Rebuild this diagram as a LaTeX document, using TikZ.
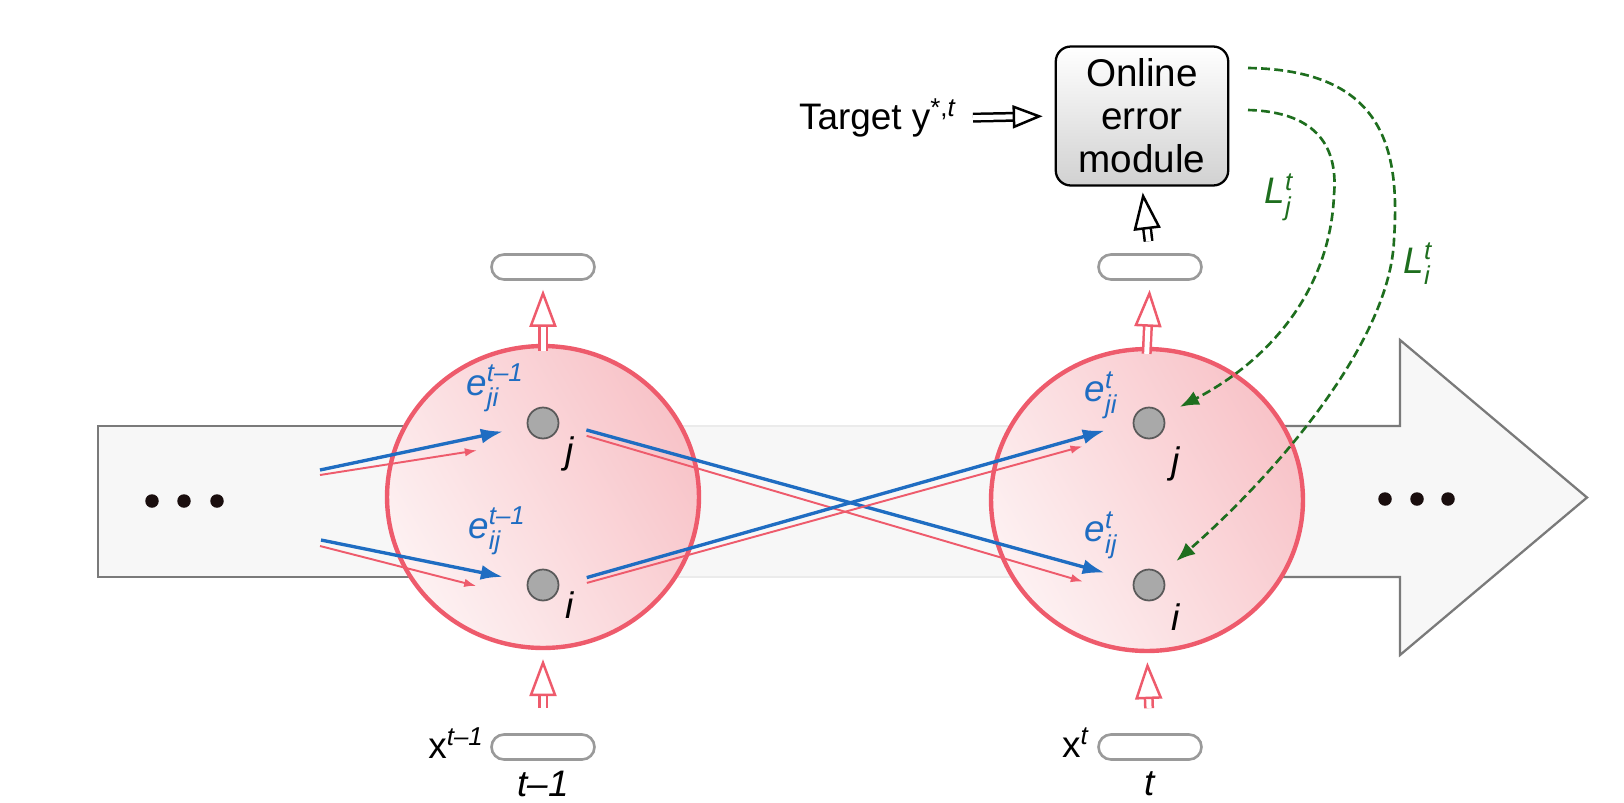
\documentclass[tikz,border=0pt]{standalone}
\usepackage{amsmath}
\usepackage{fontspec}
\setmainfont{Liberation Sans}
\usetikzlibrary{shapes,arrows.meta,positioning}

\definecolor{cellred}{HTML}{EE5B6C}
\definecolor{cellpale}{HTML}{FDF1F2}
\definecolor{cellpink}{HTML}{F8C3C8}
\definecolor{linkblue}{HTML}{1F6DC2}
\definecolor{lossgreen}{HTML}{1E6E1E}
\definecolor{unitgray}{HTML}{A9A9A9}
\definecolor{unitedge}{HTML}{5A5A5A}
\definecolor{pillgray}{HTML}{9A9A9A}
\definecolor{bodyfill}{HTML}{F7F7F7}
\definecolor{bodyedge}{HTML}{7A7A7A}
\definecolor{dotdark}{HTML}{1A0E0E}

\newcommand{\elab}[3]{\textit{#1}$^{\text{\itshape #2}}_{\text{\itshape #3}}$}

\begin{document}
\begin{tikzpicture}[x=0.02cm, y=-0.02cm,
    cell/.style={ellipse, draw=cellred, line width=2.5pt, minimum width=6.24cm, minimum height=6.04cm,
        left color=cellpale, right color=cellpink, shading angle=120},
    unit/.style={circle, draw=unitedge, fill=unitgray, line width=1pt, minimum size=0.62cm, inner sep=0pt},
    pill/.style={rectangle, rounded corners=0.25cm, draw=pillgray, fill=white, line width=1.5pt,
        minimum width=2.06cm, minimum height=0.5cm},
    module/.style={rectangle, rounded corners=0.3cm, draw, line width=1.3pt, top color=white,
        bottom color=black!18, minimum width=3.45cm, minimum height=2.78cm, align=center,
        font=\fontsize{22}{24.5}\selectfont},
    lbl/.style={font=\fontsize{21}{24}\selectfont, inner sep=0pt},
    wlink/.style={draw=linkblue, line width=1.9pt, -{Latex[length=0.44cm,width=0.3cm]}},
    rlink/.style={draw=cellred, line width=1.1pt, -{Latex[length=0.24cm,width=0.17cm]}},
    hollow/.style={double=white, double distance=0.1cm, line width=0.05cm,
        -{Triangle[open,length=0.74cm,width=0.54cm]}},
    loss/.style={draw=lossgreen, line width=1.5pt, dash pattern=on 5pt off 2.5pt,
        -{Latex[length=0.38cm,width=0.3cm]}},
    dot/.style={circle, fill=dotdark, minimum size=0.27cm, inner sep=0pt}
]
\useasboundingbox (0,0) rectangle (1624,802);

\fill[bodyfill] (98,426) -- (1400,426) -- (1400,340) -- (1587,497.5) -- (1400,655) -- (1400,577) -- (98,577) -- cycle;
\draw[bodyedge, line width=1.3pt] (450,426) -- (98,426) -- (98,577) -- (450,577);
\draw[bodyedge, line width=1.3pt] (1250,426) -- (1400,426) -- (1400,340) -- (1587,497.5) -- (1400,655) -- (1400,577) -- (1250,577);
\draw[black!8, line width=1pt] (650,426) -- (1050,426) (650,577) -- (1050,577);

\foreach \x [count=\k] in {152,184,217} \node[dot] (ldot\k) at (\x,501) {};
\foreach \x [count=\k] in {1385,1417,1448} \node[dot] (rdot\k) at (\x,499) {};

\node[cell] (cellprev) at (543,497) {};
\node[cell] (cellcur) at (1147,500) {};

\node[unit] (jprev) at (543,423) {};
\node[unit] (iprev) at (543,585) {};
\node[unit] (jcur) at (1149,423) {};
\node[unit] (icur) at (1149,585) {};

\node[lbl] (jprevlbl) at (570,454) {\textit{j}};
\node[lbl] (iprevlbl) at (570,605) {\textit{i}};
\node[lbl] (jcurlbl) at (1176,464) {\textit{j}};
\node[lbl] (icurlbl) at (1176,617) {\textit{i}};

\node[lbl, text=linkblue] (ejiprev) at (495,388) {\elab{e}{t–1}{ji}};
\node[lbl, text=linkblue] (eijprev) at (497,531) {\elab{e}{t–1}{ij}};
\node[lbl, text=linkblue] (ejicur) at (1101,395) {\elab{e}{t}{ji}};
\node[lbl, text=linkblue] (eijcur) at (1101,535) {\elab{e}{t}{ij}};

\coordinate (inbj) at (320,470);
\coordinate (inrj) at (320,475);
\coordinate (inbi) at (321,540);
\coordinate (inri) at (320,546);

\draw[wlink, shorten >=0.82cm] (inbj) -- (jprev.center);
\draw[rlink, shorten >=1.34cm] (inrj) -- ([yshift=-0.34cm]jprev.center);
\draw[wlink, shorten >=0.82cm] (inbi) -- (iprev.center);
\draw[rlink, shorten >=1.38cm] (inri) -- ([yshift=-0.36cm]iprev.center);

\draw[wlink, shorten <=0.9cm, shorten >=0.92cm] ([yshift=0.1cm]jprev.center) -- (icur.center);
\draw[rlink, shorten <=0.91cm, shorten >=1.38cm] (jprev.center) -- ([yshift=-0.32cm]icur.center);
\draw[wlink, shorten <=0.91cm, shorten >=0.92cm] ([yshift=-0.1cm]iprev.center) -- ([yshift=0.1cm]jcur.center);
\draw[rlink, shorten <=0.91cm, shorten >=1.38cm] ([yshift=-0.2cm]iprev.center) -- ([yshift=-0.1cm]jcur.center);

\node[pill] (outprev) at (543,267) {};
\node[pill] (inprev) at (543,747) {};
\node[pill] (outcur) at (1150,267) {};
\node[pill] (incur) at (1150,747) {};

\draw[hollow, draw=cellred, shorten <=-0.14cm, shorten >=0.18cm] (cellprev.north) -- (outprev.south);
\draw[hollow, draw=cellred, shorten <=0.5cm, shorten >=0.18cm] (inprev.north) -- (cellprev.south);
\draw[hollow, draw=cellred, shorten <=-0.14cm, shorten >=0.18cm] (cellcur.north) -- (outcur.south);
\draw[hollow, draw=cellred, shorten <=0.5cm, shorten >=0.18cm] (incur.north) -- (cellcur.south);

\node[module] (errmod) at (1142,116) {Online\\error\\module};
\node[lbl, anchor=east] (target) at (956,118) {Target y$^{\text{*,\itshape t}}$};

\draw[hollow, draw=black, shorten <=0.24cm, shorten >=0.12cm] (outcur.north) -- (errmod.south);
\draw[hollow, draw=black, shorten <=0.34cm, shorten >=0.24cm,
    -{Triangle[open,length=0.6cm,width=0.46cm]}] (target.east) -- (errmod.west);

\node[lbl, anchor=east] (xprev) at (484,743) {x$^{\text{\itshape t–1}}$};
\node[lbl, anchor=east] (xcur) at (1089,743) {x$^{\text{\itshape t}}$};
\node[lbl] (tprev) at (543,784) {\textit{t–1}};
\node[lbl] (tcur) at (1150,784) {\textit{t}};

\coordinate (lossi) at (1248,68);
\coordinate (lossj) at (1248,110);
\draw[loss, shorten >=0.4cm] (lossi) .. controls (1385,70) and (1400,150) .. (1394,240)
    .. controls (1390,340) and (1280,470) .. (icur);
\draw[loss, shorten >=0.37cm] (lossj) .. controls (1320,112) and (1338,150) .. (1334,195)
    .. controls (1330,290) and (1270,360) .. (jcur);
\node[lbl, text=lossgreen] (lossjlbl) at (1279,197) {\elab{L}{t}{j}};
\node[lbl, text=lossgreen] (lossilbl) at (1418,264) {\elab{L}{t}{i}};
\end{tikzpicture}
\end{document}
